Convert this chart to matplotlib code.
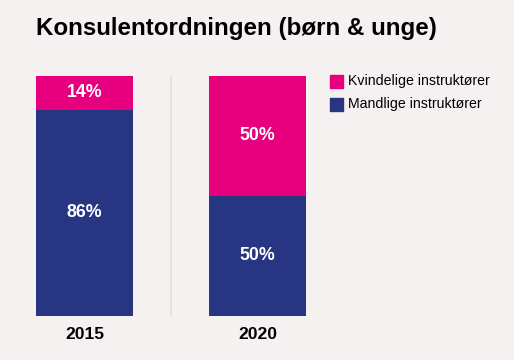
import matplotlib
matplotlib.use('Agg')
import matplotlib.pyplot as plt
from matplotlib.patches import Rectangle

plt.rcParams['font.family'] = ['Liberation Sans', 'DejaVu Sans']

years = ['2015', '2020']
female = [14, 50]
male = [86, 50]
series_labels = ['Kvindelige instruktører', 'Mandlige instruktører']

BG = '#f5f1f0'
PINK = '#e6007e'
NAVY = '#283583'

W, H = 514, 360
fig = plt.figure(figsize=(W / 100, H / 100), dpi=100, facecolor=BG)
ax = fig.add_axes([36 / W, 1 - 316 / H, 270 / W, 240 / H])
ax.set_facecolor(BG)

x = range(len(years))
width = 0.56
ax.bar(x, male, width=width, color=NAVY, linewidth=0)
ax.bar(x, female, width=width, bottom=male, color=PINK, linewidth=0)

for i in x:
    ax.text(i, male[i] / 2, f'{male[i]}%', ha='center', va='center',
            color='white', fontsize=12.8, fontweight='bold')
    ax.text(i, male[i] + female[i] / 2, f'{female[i]}%', ha='center', va='center',
            color='white', fontsize=12.8, fontweight='bold')

ax.axvline(0.5, color='#e6e2e0', linewidth=1.5)
ax.set_xlim(-0.28, 1.28)
ax.set_ylim(0, 100)
ax.set_xticks(list(x))
ax.set_xticklabels(years, fontsize=12.6, fontweight='bold')
ax.tick_params(length=0, pad=8)
ax.set_yticks([])
for s in ax.spines.values():
    s.set_visible(False)

fig.text(36 / W, 1 - 28 / H, 'Konsulentordningen (børn & unge)', fontsize=17.4,
         fontweight='bold', va='center', ha='left')

# legend
for j, (lab, col) in enumerate(zip(series_labels, [PINK, NAVY])):
    y = 81 + j * 23
    fig.patches.append(Rectangle((330 / W, 1 - (y + 6.5) / H), 13 / W, 13 / H,
                                 transform=fig.transFigure, color=col))
    fig.text(348 / W, 1 - y / H, lab, fontsize=10.2, va='center', ha='left')

fig.savefig('out.png', dpi=100, facecolor=BG)
